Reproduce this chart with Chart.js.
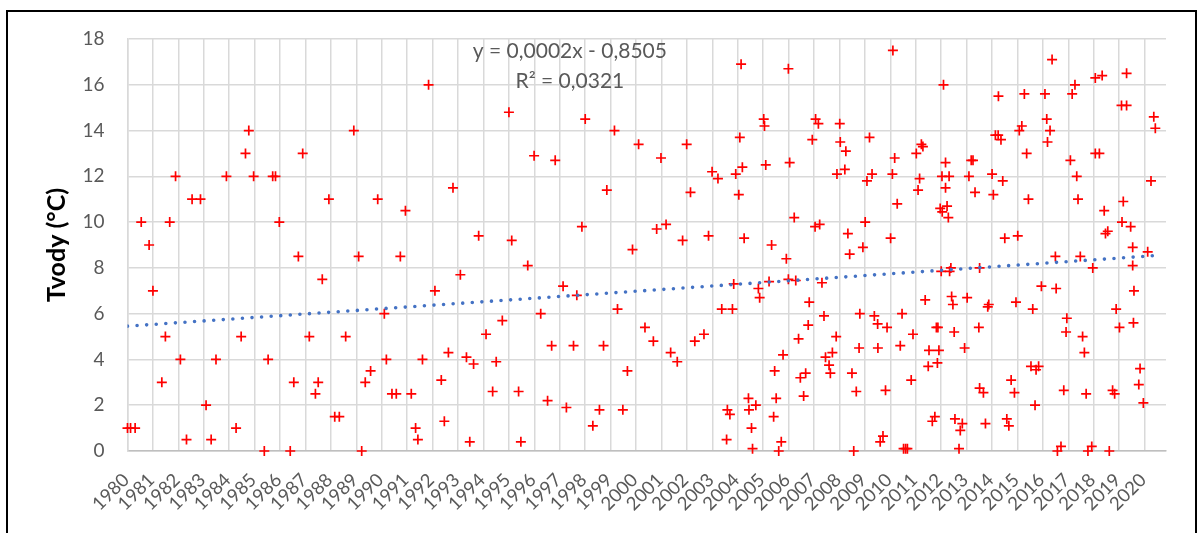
<!DOCTYPE html>
<html>
<head>
<meta charset="utf-8">
<script src="https://cdn.jsdelivr.net/npm/chart.js@4.4.0/dist/chart.umd.min.js"></script>
<style>
html,body{margin:0;padding:0;background:#fff;}
#wrap{position:relative;width:1204px;height:533px;overflow:hidden;}
canvas{display:block;}
</style>
</head>
<body>
<div id="wrap"><canvas id="c" width="1204" height="533"></canvas></div>
<script>
// Sample time (fractional year) and water temperature (°C)
const sampleYears = [
1980.00,1980.12,1980.30,1980.54,1980.85,1981.00,1981.35,1981.49,1981.66,1981.89,
1982.08,1982.32,1982.54,1982.87,1983.09,1983.29,1983.48,1983.89,1984.27,1984.47,
1984.64,1984.77,1984.96,1985.38,1985.53,1985.71,1985.82,1985.97,1986.40,1986.54,
1986.72,1986.89,1987.15,1987.39,1987.50,1987.66,1987.92,1988.15,1988.33,1988.58,
1988.90,1989.09,1989.21,1989.35,1989.56,1989.84,1990.10,1990.18,1990.40,1990.57,
1990.73,1990.93,1991.16,1991.33,1991.42,1991.60,1991.84,1992.09,1992.34,1992.46,
1992.62,1992.80,1993.09,1993.33,1993.46,1993.61,1993.81,1994.10,1994.36,1994.50,
1994.74,1995.00,1995.11,1995.38,1995.47,1995.74,1995.99,1996.25,1996.52,1996.68,
1996.82,1997.13,1997.26,1997.54,1997.67,1997.87,1998.00,1998.30,1998.56,1998.72,
1998.85,1999.15,1999.27,1999.48,1999.66,1999.86,2000.10,2000.35,2000.68,2000.81,
2000.98,2001.18,2001.36,2001.62,2001.83,2001.99,2002.14,2002.31,2002.67,2002.85,
2002.99,2003.22,2003.37,2003.56,2003.59,2003.69,2003.79,2003.84,2003.92,2004.04,
2004.08,2004.13,2004.18,2004.25,2004.42,2004.44,2004.54,2004.58,2004.71,2004.81,
2004.86,2005.02,2005.05,2005.10,2005.23,2005.33,2005.41,2005.45,2005.51,2005.61,
2005.71,2005.78,2005.91,2005.99,2005.99,2006.04,2006.22,2006.28,2006.39,2006.46,
2006.59,2006.67,2006.77,2006.81,2006.93,2007.04,2007.06,2007.17,2007.22,2007.31,
2007.39,2007.45,2007.59,2007.64,2007.72,2007.87,2007.90,2008.01,2008.03,2008.21,
2008.25,2008.33,2008.40,2008.49,2008.56,2008.66,2008.77,2008.80,2008.92,2009.01,
2009.08,2009.18,2009.28,2009.37,2009.50,2009.51,2009.60,2009.71,2009.81,2009.87,
2010.01,2010.08,2010.10,2010.17,2010.27,2010.39,2010.46,2010.52,2010.60,2010.67,
2010.82,2010.89,2011.02,2011.09,2011.15,2011.22,2011.28,2011.37,2011.49,2011.52,
2011.65,2011.75,2011.81,2011.85,2011.87,2011.91,2011.96,2012.00,2012.03,2012.04,
2012.09,2012.17,2012.17,2012.23,2012.28,2012.31,2012.33,2012.38,2012.41,2012.46,
2012.51,2012.54,2012.70,2012.75,2012.83,2012.92,2013.02,2013.09,2013.18,2013.25,
2013.33,2013.48,2013.51,2013.51,2013.66,2013.74,2013.83,2013.87,2014.00,2014.05,
2014.13,2014.24,2014.25,2014.35,2014.42,2014.50,2014.58,2014.66,2014.75,2014.88,
2014.94,2015.01,2015.07,2015.17,2015.27,2015.36,2015.43,2015.53,2015.60,2015.69,
2015.73,2015.83,2015.94,2016.08,2016.15,2016.18,2016.28,2016.36,2016.49,2016.52,
2016.57,2016.71,2016.82,2016.91,2016.94,2017.08,2017.15,2017.26,2017.33,2017.38,
2017.47,2017.56,2017.63,2017.70,2017.77,2017.92,2017.96,2018.06,2018.06,2018.22,
2018.33,2018.41,2018.46,2018.55,2018.61,2018.74,2018.82,2018.88,2019.01,2019.09,
2019.11,2019.16,2019.29,2019.29,2019.45,2019.53,2019.53,2019.56,2019.58,2019.77,
2019.82,2019.95,2020.12,2020.25,2020.36,2020.42
];
const waterTemps = [
1.0,1.0,1.0,10.0,9.0,7.0,3.0,5.0,10.0,12.0,
4.0,0.5,11.0,11.0,2.0,0.5,4.0,12.0,1.0,5.0,
13.0,14.0,12.0,0.0,4.0,12.0,12.0,10.0,0.0,3.0,
8.5,13.0,5.0,2.5,3.0,7.5,11.0,1.5,1.5,5.0,
14.0,8.5,0.0,3.0,3.5,11.0,6.0,4.0,2.5,2.5,
8.5,10.5,2.5,1.0,0.5,4.0,16.0,7.0,3.1,1.3,
4.3,11.5,7.7,4.1,0.4,3.8,9.4,5.1,2.6,3.9,
5.7,14.8,9.2,2.6,0.4,8.1,12.9,6.0,2.2,4.6,
12.7,7.2,1.9,4.6,6.8,9.8,14.5,1.1,1.8,4.6,
11.4,14.0,6.2,1.8,3.5,8.8,13.4,5.4,4.8,9.7,
12.8,9.9,4.3,3.9,9.2,13.4,11.3,4.8,5.1,9.4,
12.2,11.9,6.2,0.5,1.8,1.6,6.2,7.3,12.1,11.2,
13.7,16.9,12.4,9.3,2.3,1.8,1.0,0.1,2.0,7.1,
6.7,14.5,14.2,12.5,7.4,9.0,1.5,3.5,2.3,0.0,
0.4,4.2,8.4,7.5,16.7,12.6,10.2,7.45,4.9,3.2,
2.4,3.4,5.5,6.5,13.6,9.8,14.5,14.3,9.9,7.35,
5.9,4.1,3.75,3.4,4.3,5.0,12.1,14.3,13.5,12.3,
13.1,9.5,8.6,3.4,0.0,2.6,4.5,6.0,8.9,10.0,
11.8,13.7,12.1,5.9,5.55,4.5,0.4,0.65,2.65,5.4,
9.3,12.1,17.5,12.8,10.8,4.6,6.0,0.1,0.1,0.1,
3.1,5.1,13.0,11.4,11.9,13.4,13.3,6.6,3.7,4.4,
1.3,1.5,5.4,3.85,5.4,4.4,10.6,7.85,12.0,10.45,
16.0,12.6,11.5,10.7,10.2,12.0,7.85,8.0,6.75,6.4,
5.2,1.4,0.1,0.9,1.2,4.5,6.7,12.0,12.7,12.7,
11.3,5.4,8.0,2.75,2.55,1.2,6.3,6.4,12.1,11.2,
13.8,13.8,15.5,13.6,11.8,9.3,1.4,1.1,3.1,2.55,
6.5,9.4,14.0,14.2,15.6,13.0,11.0,3.7,6.2,2.0,
3.55,3.7,7.2,15.6,14.5,13.5,14.0,17.1,8.5,7.1,
0.0,0.2,2.65,5.2,5.8,12.7,15.6,16.0,12.0,11.0,
8.5,5.0,4.3,2.5,0.0,0.2,8.0,16.3,13.0,13.0,
16.4,10.5,9.5,9.6,0.0,2.65,2.5,6.2,5.4,15.1,
10.0,10.9,15.1,16.5,9.8,8.9,8.1,5.6,7.0,2.9,
3.6,2.1,8.7,11.8,14.6,14.1
];
const xTickLabels = ['1980','1981','1982','1983','1984','1985','1986','1987','1988','1989',
'1990','1991','1992','1993','1994','1995','1996','1997','1998','1999','2000','2001','2002',
'2003','2004','2005','2006','2007','2008','2009','2010','2011','2012','2013','2014','2015',
'2016','2017','2018','2019','2020'];
const yTickValues = [0,2,4,6,8,10,12,14,16,18];
const trendEquation = 'y = 0,0002x - 0,8505';
const trendR2 = 'R\u00B2 = 0,0321';
const yAxisTitle = 'Tvody (\u00B0C)';

// least-squares linear trend computed from the data
function linearFit(xs, ys) {
  const n = xs.length;
  let sx = 0, sy = 0;
  for (let i = 0; i < n; i++) { sx += xs[i]; sy += ys[i]; }
  const mx = sx / n, my = sy / n;
  let sxy = 0, sxx = 0;
  for (let i = 0; i < n; i++) { sxy += (xs[i]-mx)*(ys[i]-my); sxx += (xs[i]-mx)*(xs[i]-mx); }
  const b = sxy / sxx;
  return { a: my - b*mx, b };
}
const fit = linearFit(sampleYears, waterTemps);
const xMin = Math.min(...sampleYears), xMax = Math.max(...sampleYears);
const trendPoints = [xMin, xMax].map(x => ({ x, y: fit.a + fit.b * x }));
const scatterPoints = sampleYears.map((x, i) => ({ x, y: waterTemps[i] }));

const decor = {
  id: 'decor',
  afterDraw(chart) {
    const ctx = chart.ctx;
    const area = chart.chartArea;
    ctx.save();
    ctx.fillStyle = '#595959';
    ctx.font = '21px Lato';
    ctx.textAlign = 'center';
    ctx.textBaseline = 'middle';
    const cx = area.left + (area.right - area.left) * 0.426;
    ctx.fillText(trendEquation, cx, area.top + 12);
    ctx.fillText(trendR2, cx, area.top + 42);
    ctx.strokeStyle = '#000';
    ctx.lineWidth = 2;
    ctx.beginPath();
    ctx.moveTo(7, 560); ctx.lineTo(7, 11); ctx.lineTo(1196, 11); ctx.lineTo(1196, 560);
    ctx.stroke();
    ctx.restore();
  }
};

function make() {
  new Chart(document.getElementById('c'), {
    type: 'scatter',
    data: {
      datasets: [
        {
          type: 'line',
          data: trendPoints,
          borderColor: '#4472c4',
          borderWidth: 3.6,
          borderDash: [0, 9.6],
          borderCapStyle: 'round',
          pointRadius: 0,
          fill: false,
          tension: 0
        },
        {
          type: 'scatter',
          data: scatterPoints,
          pointStyle: 'cross',
          pointRadius: 5,
          pointHoverRadius: 5,
          pointBorderWidth: 1.7,
          borderColor: '#ff0000',
          backgroundColor: '#ff0000',
          clip: false
        }
      ]
    },
    options: {
      responsive: false,
      animation: false,
      devicePixelRatio: 1,
      events: [],
      layout: { padding: { left: 0, top: 39, right: 38, bottom: 0 } },
      plugins: { legend: { display: false }, tooltip: { enabled: false } },
      scales: {
        x: {
          type: 'linear',
          min: 1980,
          max: 2020.84,
          afterFit(s) { s.height = 82; },
          grid: { color: '#d9d9d9', lineWidth: 1.5, drawTicks: false },
          border: { color: '#bfbfbf', width: 1.5 },
          ticks: {
            stepSize: 1,
            includeBounds: false,
            autoSkip: false,
            maxRotation: 45,
            minRotation: 45,
            padding: 18,
            labelOffset: -1.5,
            color: '#595959',
            font: { family: 'Lato', size: 18.5 },
            callback: (v) => xTickLabels[Math.round(v - 1980)] ?? ''
          }
        },
        y: {
          min: yTickValues[0],
          max: yTickValues[yTickValues.length - 1],
          afterFit(s) { s.width = 127.5; },
          afterBuildTicks(s) { s.ticks = yTickValues.map(v => ({ value: v })); },
          grid: { color: '#d9d9d9', lineWidth: 1.5, drawTicks: false },
          border: { color: '#d9d9d9', width: 1.5 },
          ticks: {
            padding: 23,
            color: '#595959',
            font: { family: 'Lato', size: 19 }
          },
          title: {
            display: true,
            text: yAxisTitle,
            color: '#000',
            font: { family: 'Lato', size: 25, weight: 'bold' },
            padding: { top: 42, bottom: 0 }
          }
        }
      }
    },
    plugins: [decor]
  });
}
const fontLoads = ['18px Lato', '19px Lato', '21px Lato', 'bold 25px Lato'].map(f => document.fonts.load(f).catch(() => null));
Promise.all(fontLoads).then(make, make);
</script>
</body>
</html>
